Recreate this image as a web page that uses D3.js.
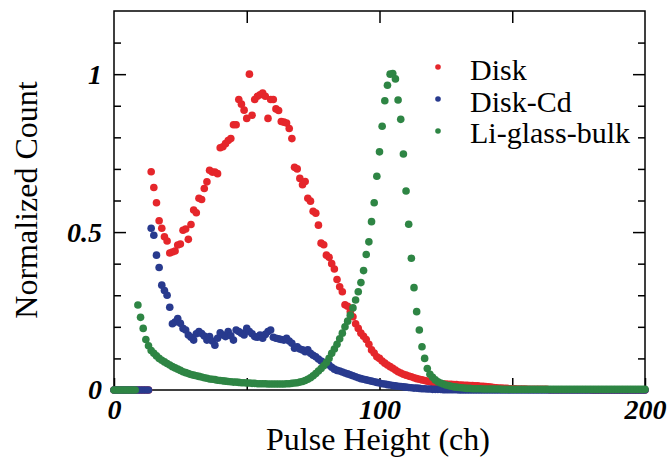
<!DOCTYPE html>
<html>
<head>
<meta charset="utf-8">
<script src="https://cdn.jsdelivr.net/npm/d3@7"></script>
<style>
  html, body { margin: 0; padding: 0; background: #fff; }
  svg { display: block; }
  .tick-label { font-family: "Liberation Serif", "Times New Roman", serif; font-weight: bold; font-style: italic; font-size: 28px; }
  .title { font-family: "Liberation Serif", "Times New Roman", serif; font-size: 32px; }
  .legend { font-family: "Liberation Serif", "Times New Roman", serif; font-size: 30px; }
</style>
</head>
<body>
<div id="chart"></div>
<script>
// -------- Data (normalized count per channel, ch 0..200) --------
const seriesNames = ["Disk", "Disk-Cd", "Li-glass-bulk"];
const seriesColors = ["#e5262b", "#283a8e", "#2e8544"];

const diskValues = [
  0, 0, 0, 0, 0, 0, 0, 0, 0, 0,
  0, 0, 0, 0, .691, .641, .593, .536, .512, .485,
  .472, .434, .437, .44, .459, .462, .506, .51, .477, .524,
  .57, .561, .607, .603, .638, .659, .696, .69, .69, .685,
  .767, .77, .78, .79, .796, .84, .84, .92, .905, .886,
  .86, 1.0, .87, .92, .93, .935, .94, .93, .86, .92,
  .92, .89, .885, .85, .848, .845, .828, .796, .705, .70,
  .67, .65, .66, .607, .598, .566, .56, .522, .465, .46,
  .427, .42, .40, .383, .35, .327, .311, .27, .265, .248,
  .232, .21, .195, .18, .17, .16, .145, .127, .117, .105,
  .10, .092, .085, .079, .074, .069, .063, .058, .054, .05,
  .047, .044, .042, .039, .036, .034, .032, .03, .028, .026,
  .024, .022, .021, .02, .019, .019, .018, .018, .017, .017,
  .016, .016, .015, .015, .014, .014, .013, .013, .012, .012,
  .011, .01, .009, .008, .007, .006, .006, .005, .005, .004,
  .004, .004, .003, .003, .003, .003, .002, .002, .002, .002,
  .002, .002, .002, .002, .001, .001, .001, .001, .001, .001,
  .001, .001, .001, .001, .001, .001, .001, .001, .001, .001,
  0, 0, 0, 0, 0, 0, 0, 0, 0, 0,
  0, 0, 0, 0, 0, 0, 0, 0, 0, 0,
  0
];

const diskCdValues = [
  0, 0, 0, 0, 0, 0, 0, 0, 0, 0,
  0, 0, 0, 0, .512, .49, .427, .388, .332, .315,
  .30, .262, .21, .215, .226, .211, .195, .19, .174, .167,
  .158, .178, .185, .179, .171, .158, .169, .155, .142, .164,
  .181, .174, .169, .185, .172, .158, .19, .185, .18, .174,
  .195, .185, .178, .169, .167, .174, .164, .176, .185, .19,
  .167, .164, .162, .16, .158, .164, .155, .148, .132, .137,
  .13, .127, .121, .127, .116, .11, .105, .098, .092, .088,
  .084, .079, .072, .066, .062, .06, .057, .054, .051, .048,
  .045, .042, .039, .036, .034, .032, .03, .028, .026, .024,
  .022, .02, .019, .017, .016, .014, .013, .012, .011, .01,
  .009, .008, .007, .006, .006, .005, .004, .004, .003, .003,
  .002, .002, .002, .002, .001, .001, .001, .001, .001, .001,
  0, 0, 0, 0, 0, 0, 0, 0, 0, 0,
  0, 0, 0, 0, 0, 0, 0, 0, 0, 0,
  0, 0, 0, 0, 0, 0, 0, 0, 0, 0,
  0, 0, 0, 0, 0, 0, 0, 0, 0, 0,
  0, 0, 0, 0, 0, 0, 0, 0, 0, 0,
  0, 0, 0, 0, 0, 0, 0, 0, 0, 0,
  0, 0, 0, 0, 0, 0, 0, 0, 0, 0,
  0
];

const liGlassValues = [
  0, 0, 0, 0, 0, 0, 0, 0, 0, .269,
  .23, .195, .16, .14, .125, .116, .108, .1, .094, .089,
  .084, .079, .074, .07, .066, .062, .058, .055, .052, .049,
  .047, .045, .043, .041, .039, .037, .035, .034, .033, .031,
  .03, .029, .028, .027, .026, .025, .025, .024, .023, .023,
  .022, .022, .021, .021, .02, .02, .02, .02, .019, .019,
  .019, .019, .019, .019, .019, .02, .02, .021, .022, .023,
  .025, .027, .03, .034, .039, .045, .052, .06, .068, .077,
  .087, .1, .116, .13, .145, .162, .18, .2, .218, .237,
  .26, .285, .311, .34, .378, .429, .469, .533, .593, .677,
  .754, .835, .916, .965, 1.0, 1.002, .985, .918, .857, .747,
  .63, .525, .417, .324, .248, .19, .137, .1, .068, .05,
  .04, .032, .026, .022, .019, .016, .014, .012, .01, .009,
  .008, .007, .006, .005, .005, .004, .004, .004, .004, .003,
  .003, .003, .003, .003, .003, .003, .002, .002, .002, .002,
  .002, .002, .002, .002, .002, .002, .002, .002, .002, .002,
  .002, .002, .002, .002, .002, .002, .002, .002, .002, .002,
  .002, .002, .002, .002, .002, .002, .002, .002, .002, .002,
  .002, .002, .002, .002, .002, .002, .002, .002, .002, .002,
  .002, .002, .002, .002, .002, .002, .002, .002, .002, .002,
  .002
];

const xMajorTicks = [0, 50, 100, 150, 200];
const xLabelTicks = [0, 100, 200];
const yMajorTicks = [0, 0.5, 1];
const yMinorTicks = [0.1, 0.2, 0.3, 0.4, 0.6, 0.7, 0.8, 0.9, 1.1];
const yTickLabels = ["0", "0.5", "1"];

// -------- Layout --------
const W = 671, H = 458;
const frame = { left: 114, right: 645, top: 11, bottom: 390 };

const svg = d3.select("#chart").append("svg")
  .attr("width", W)
  .attr("height", H);

const x = d3.scaleLinear().domain([0, 200]).range([frame.left, frame.right]);
const y = d3.scaleLinear().domain([0, 1.2]).range([frame.bottom, frame.top]);

// ticks (all pointing inward)
function noDomain(g) { g.select(".domain").remove(); }

svg.append("g")
  .attr("transform", `translate(0,${frame.bottom})`)
  .call(d3.axisBottom(x).tickValues(xMajorTicks).tickSizeInner(-12).tickSizeOuter(0).tickPadding(9)
    .tickFormat(d => xLabelTicks.includes(d) ? d : ""))
  .call(noDomain)
  .call(g => g.selectAll("text").attr("class", "tick-label").attr("font-size", null).attr("font-family", null));

svg.append("g")
  .attr("transform", `translate(0,${frame.top})`)
  .call(d3.axisTop(x).tickValues([50, 100, 150]).tickSizeInner(-12).tickSizeOuter(0).tickFormat(""))
  .call(noDomain);

svg.append("g")
  .attr("transform", `translate(${frame.left},0)`)
  .call(d3.axisLeft(y).tickValues(yMajorTicks).tickSizeInner(-12).tickSizeOuter(0).tickPadding(12)
    .tickFormat((d, i) => yTickLabels[i]))
  .call(noDomain)
  .call(g => g.selectAll("text").attr("class", "tick-label").attr("font-size", null).attr("font-family", null));

svg.append("g")
  .attr("transform", `translate(${frame.left},0)`)
  .call(d3.axisLeft(y).tickValues(yMinorTicks).tickSizeInner(-7).tickSizeOuter(0).tickFormat(""))
  .call(noDomain);

svg.append("g")
  .attr("transform", `translate(${frame.right},0)`)
  .call(d3.axisRight(y).tickValues(yMajorTicks).tickSizeInner(-12).tickSizeOuter(0).tickFormat(""))
  .call(noDomain);

svg.append("g")
  .attr("transform", `translate(${frame.right},0)`)
  .call(d3.axisRight(y).tickValues(yMinorTicks).tickSizeInner(-7).tickSizeOuter(0).tickFormat(""))
  .call(noDomain);

svg.selectAll(".tick line").attr("stroke", "#000").attr("stroke-width", 1.5);

// frame
svg.append("rect")
  .attr("x", frame.left)
  .attr("y", frame.top)
  .attr("width", frame.right - frame.left)
  .attr("height", frame.bottom - frame.top)
  .attr("fill", "none")
  .attr("stroke", "#000")
  .attr("stroke-width", 1.5);

// -------- Points --------
const allSeries = [diskValues, diskCdValues, liGlassValues];

allSeries.forEach((vals, si) => {
  svg.append("g")
    .selectAll("circle")
    .data(vals)
    .join("circle")
    .attr("cx", (d, i) => x(i))
    .attr("cy", d => y(d))
    .attr("r", 3.8)
    .attr("fill", seriesColors[si]);
});

// -------- Titles --------
svg.append("text")
  .attr("class", "title")
  .attr("x", 378)
  .attr("y", 450)
  .attr("text-anchor", "middle")
  .text("Pulse Height (ch)");

svg.append("text")
  .attr("class", "title")
  .attr("transform", "translate(37,200) rotate(-90)")
  .attr("text-anchor", "middle")
  .text("Normalized Count");

// -------- Legend --------
const legend = svg.append("g");
seriesNames.forEach((name, i) => {
  legend.append("circle")
    .attr("cx", 438)
    .attr("cy", 67 + i * 32)
    .attr("r", 2.8)
    .attr("fill", seriesColors[i]);
  legend.append("text")
    .attr("class", "legend")
    .attr("x", 470)
    .attr("y", 80 + i * 31.5)
    .text(name);
});
</script>
</body>
</html>
